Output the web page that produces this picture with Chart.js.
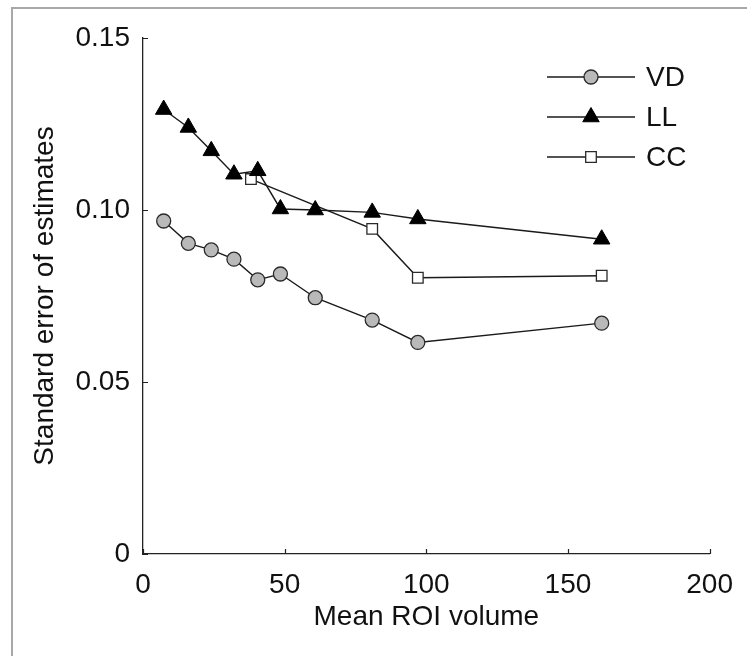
<!DOCTYPE html>
<html>
<head>
<meta charset="utf-8">
<title>Standard error of estimates vs mean ROI volume</title>
<script src="https://cdn.jsdelivr.net/npm/chart.js@4/dist/chart.umd.min.js"></script>
<style>
  html, body { margin: 0; padding: 0; background: #fff; }
  #wrap { position: relative; width: 747px; height: 656px; overflow: hidden; }
  #frame {
    position: absolute; left: 11px; top: 7px; width: 800px; height: 700px;
    border-left: 2px solid #a8a8a8; border-top: 2px solid #a8a8a8;
  }
  canvas { position: absolute; left: 0; top: 0; }
</style>
</head>
<body>
<div id="wrap">
  <div id="frame"></div>
  <canvas id="roiChart" width="747" height="656"></canvas>
</div>
<script>
// values
const roiVolume = [7.3, 16.0, 24.1, 32.1, 40.5, 48.5, 60.8, 80.9, 97.0, 161.9];
const vdError = [0.0968, 0.0903, 0.0884, 0.0857, 0.0797, 0.0814, 0.0745, 0.0680, 0.0615, 0.0671];
const llError = [0.1292, 0.1240, 0.1172, 0.1104, 0.1114, 0.1003, 0.1000, 0.0993, 0.0974, 0.0915];
const ccVolume = [38.1, 80.9, 97.0, 161.9];
const ccError = [0.1090, 0.0945, 0.0803, 0.0809];

const xTicks = [0, 50, 100, 150, 200];
const yTicks = [0, 0.05, 0.10, 0.15];

const FONT = { family: '"Liberation Sans", Arial, Helvetica, sans-serif', size: 28 };
const INK = '#111';

function toPoints(xs, ys) {
    return xs.map((x, i) => ({ x: x, y: ys[i] }));
}

// Matlab-style ticks that point into the plot
const inwardTicks = {
    id: 'inwardTicks',
    afterDraw(chart) {
        const { ctx, scales: { x, y } } = chart;
        ctx.save();
        ctx.strokeStyle = '#222';
        ctx.lineWidth = 1.2;
        ctx.beginPath();
        x.ticks.forEach(t => {
            const px = Math.round(x.getPixelForValue(t.value)) + 0.5;
            ctx.moveTo(px, x.top);
            ctx.lineTo(px, x.top - 5);
        });
        y.ticks.forEach(t => {
            const py = Math.round(y.getPixelForValue(t.value)) + 0.5;
            ctx.moveTo(y.right, py);
            ctx.lineTo(y.right + 5, py);
        });
        ctx.stroke();
        ctx.restore();
    },
};

// legend with a line running through each marker
const lineLegend = {
    id: 'lineLegend',
    afterDraw(chart) {
        const ctx = chart.ctx;
        const x0 = 547, x1 = 635, xm = 591, xt = 646;
        const rows = [77, 117, 157];
        ctx.save();
        chart.data.datasets.forEach((ds, i) => {
            const yy = rows[i];
            ctx.strokeStyle = ds.borderColor;
            ctx.lineWidth = ds.borderWidth;
            ctx.beginPath();
            ctx.moveTo(x0, yy);
            ctx.lineTo(x1, yy);
            ctx.stroke();
            ctx.fillStyle = ds.pointBackgroundColor;
            ctx.strokeStyle = ds.pointBorderColor;
            ctx.lineWidth = ds.pointBorderWidth;
            Chart.helpers.drawPoint(ctx, {
                pointStyle: ds.pointStyle,
                radius: ds.pointRadius,
                rotation: 0,
                borderWidth: ds.pointBorderWidth,
            }, xm, yy);
            ctx.fillStyle = INK;
            ctx.font = FONT.size + 'px ' + FONT.family;
            ctx.textAlign = 'left';
            ctx.textBaseline = 'middle';
            ctx.fillText(ds.label, xt, yy + 1);
        });
        ctx.restore();
    },
};

const ctx = document.getElementById('roiChart').getContext('2d');

new Chart(ctx, {
    type: 'line',
    data: {
        datasets: [
            {
                label: 'VD',
                data: toPoints(roiVolume, vdError),
                borderColor: '#1a1a1a',
                borderWidth: 1.4,
                pointStyle: 'circle',
                pointRadius: 7,
                pointBackgroundColor: '#b9b9b9',
                pointBorderColor: '#2a2a2a',
                pointBorderWidth: 1.3,
            },
            {
                label: 'LL',
                data: toPoints(roiVolume, llError),
                borderColor: '#1a1a1a',
                borderWidth: 1.4,
                pointStyle: 'triangle',
                pointRadius: 9.5,
                pointBackgroundColor: '#000',
                pointBorderColor: '#000',
                pointBorderWidth: 1,
            },
            {
                label: 'CC',
                data: toPoints(ccVolume, ccError),
                borderColor: '#1a1a1a',
                borderWidth: 1.4,
                pointStyle: 'rect',
                pointRadius: 7.5,
                pointBackgroundColor: '#fff',
                pointBorderColor: '#2a2a2a',
                pointBorderWidth: 1.3,
            },
        ],
    },
    options: {
        responsive: false,
        animation: false,
        layout: { padding: { top: 38, right: 30, left: 0, bottom: 0 } },
        plugins: {
            legend: { display: false },
            tooltip: { enabled: false },
        },
        elements: { line: { tension: 0 } },
        scales: {
            x: {
                type: 'linear',
                min: 0,
                max: 200,
                afterBuildTicks: s => { s.ticks = xTicks.map(v => ({ value: v })); },
                afterFit: s => { s.height = 102; },
                grid: { display: false, drawTicks: false },
                border: { display: true, color: '#222', width: 1.3 },
                ticks: {
                    color: INK,
                    font: FONT,
                    padding: 14,
                    maxRotation: 0,
                    callback: v => String(v),
                },
                title: {
                    display: true,
                    text: 'Mean ROI volume',
                    color: INK,
                    font: FONT,
                    padding: { top: 0, bottom: 22 },
                },
            },
            y: {
                type: 'linear',
                min: 0,
                max: 0.15,
                afterBuildTicks: s => { s.ticks = yTicks.map(v => ({ value: v })); },
                afterFit: s => { s.width = 143; },
                grid: { display: false, drawTicks: false },
                border: { display: true, color: '#222', width: 1.3 },
                ticks: {
                    color: INK,
                    font: FONT,
                    padding: 13,
                    callback: v => (v === 0 ? '0' : v.toFixed(2)),
                },
                title: {
                    display: true,
                    text: 'Standard error of estimates',
                    color: INK,
                    font: FONT,
                    padding: { top: 28, bottom: 0 },
                },
            },
        },
    },
    plugins: [inwardTicks, lineLegend],
});
</script>
</body>
</html>
